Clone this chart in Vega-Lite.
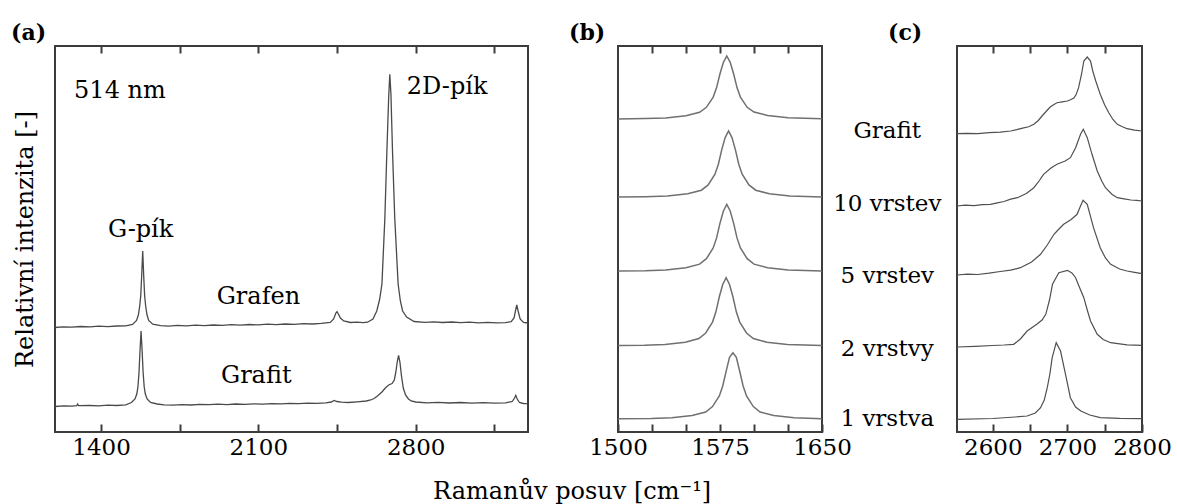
{
  "$schema": "https://vega.github.io/schema/vega-lite/v6.json",
  "padding": {"left": 10, "top": 21, "right": 0, "bottom": 0},
  "background": "white",
  "config": {
    "font": "DejaVu Serif",
    "view": {"stroke": "#3c3c3c", "strokeWidth": 2},
    "style": {"guide-label": {"font": "DejaVu Serif", "fontSize": 23, "fill": "#000"}, "guide-title": {"font": "DejaVu Serif", "fontSize": 24, "fill": "#000", "fontWeight": "normal"}},
    "axis": {"labelFont": "DejaVu Serif", "labelFontSize": 23, "labelColor": "#000", "titleFont": "DejaVu Serif", "titleFontSize": 24, "titleFontWeight": "normal", "titleColor": "#000", "tickColor": "#3c3c3c", "tickWidth": 2, "domain": false, "grid": false, "labelFlush": false, "labelOverlap": false, "minExtent": 0},
    "text": {"font": "DejaVu Serif", "fontSize": 24, "color": "#000"},
    "title": {"font": "DejaVu Serif", "fontSize": 22, "fontWeight": "bold", "color": "#000"}
  },
  "title": {"text": "Ramanův posuv [cm⁻¹]", "orient": "bottom", "anchor": "middle", "fontSize": 24, "fontWeight": "normal", "baseline": "alphabetic", "offset": 39, "dx": -19},
  "datasets": {
    "a": [
      {"s":"Grafen","x":1195,"y":104.5},{"s":"Grafen","x":1230,"y":105.2},{"s":"Grafen","x":1270,"y":104.8},{"s":"Grafen","x":1310,"y":105.5},{"s":"Grafen","x":1350,"y":105.1},{"s":"Grafen","x":1390,"y":105.8},{"s":"Grafen","x":1430,"y":105.4},{"s":"Grafen","x":1470,"y":106.0},{"s":"Grafen","x":1510,"y":106.2},{"s":"Grafen","x":1540,"y":107.5},{"s":"Grafen","x":1558,"y":111.5},{"s":"Grafen","x":1566,"y":117},{"s":"Grafen","x":1572,"y":126},{"s":"Grafen","x":1576.5,"y":136},{"s":"Grafen","x":1580.5,"y":155},{"s":"Grafen","x":1585.4,"y":181},{"s":"Grafen","x":1590,"y":155},{"s":"Grafen","x":1594,"y":136},{"s":"Grafen","x":1598.5,"y":126},{"s":"Grafen","x":1604.5,"y":117},{"s":"Grafen","x":1612,"y":111.5},{"s":"Grafen","x":1630,"y":107.8},{"s":"Grafen","x":1665,"y":106.4},{"s":"Grafen","x":1700,"y":105.8},{"s":"Grafen","x":1740,"y":106.6},{"s":"Grafen","x":1780,"y":106.1},{"s":"Grafen","x":1820,"y":106.9},{"s":"Grafen","x":1860,"y":106.4},{"s":"Grafen","x":1900,"y":107.0},{"s":"Grafen","x":1940,"y":106.6},{"s":"Grafen","x":1980,"y":107.3},{"s":"Grafen","x":2020,"y":106.9},{"s":"Grafen","x":2060,"y":107.5},{"s":"Grafen","x":2100,"y":107.1},{"s":"Grafen","x":2140,"y":107.8},{"s":"Grafen","x":2180,"y":107.4},{"s":"Grafen","x":2220,"y":108.0},{"s":"Grafen","x":2260,"y":107.7},{"s":"Grafen","x":2300,"y":108.3},{"s":"Grafen","x":2340,"y":108.0},{"s":"Grafen","x":2380,"y":108.6},{"s":"Grafen","x":2420,"y":109.5},{"s":"Grafen","x":2435,"y":113},{"s":"Grafen","x":2445,"y":119},{"s":"Grafen","x":2450,"y":120.3},{"s":"Grafen","x":2456,"y":118},{"s":"Grafen","x":2465,"y":114},{"s":"Grafen","x":2480,"y":111},{"s":"Grafen","x":2510,"y":109.5},{"s":"Grafen","x":2540,"y":109.8},{"s":"Grafen","x":2565,"y":109.3},{"s":"Grafen","x":2586,"y":109.8},{"s":"Grafen","x":2610,"y":113},{"s":"Grafen","x":2627,"y":121},{"s":"Grafen","x":2640,"y":133},{"s":"Grafen","x":2650,"y":148},{"s":"Grafen","x":2663,"y":214},{"s":"Grafen","x":2672,"y":281},{"s":"Grafen","x":2680,"y":335},{"s":"Grafen","x":2685,"y":357.7},{"s":"Grafen","x":2690,"y":338},{"s":"Grafen","x":2697,"y":281},{"s":"Grafen","x":2707,"y":214},{"s":"Grafen","x":2722,"y":148},{"s":"Grafen","x":2732,"y":131},{"s":"Grafen","x":2742,"y":121},{"s":"Grafen","x":2760,"y":115},{"s":"Grafen","x":2793,"y":110.5},{"s":"Grafen","x":2840,"y":109.7},{"s":"Grafen","x":2880,"y":110.1},{"s":"Grafen","x":2920,"y":109.5},{"s":"Grafen","x":2960,"y":110.0},{"s":"Grafen","x":3000,"y":109.3},{"s":"Grafen","x":3040,"y":109.8},{"s":"Grafen","x":3080,"y":109.2},{"s":"Grafen","x":3120,"y":109.6},{"s":"Grafen","x":3160,"y":109.1},{"s":"Grafen","x":3200,"y":109.4},{"s":"Grafen","x":3225,"y":110.3},{"s":"Grafen","x":3238,"y":114},{"s":"Grafen","x":3245,"y":122},{"s":"Grafen","x":3250,"y":127},{"s":"Grafen","x":3256,"y":121},{"s":"Grafen","x":3265,"y":113},{"s":"Grafen","x":3280,"y":109.5},{"s":"Grafen","x":3300,"y":109},
      {"s":"Grafit","x":1195,"y":25.5},{"s":"Grafit","x":1235,"y":26.2},{"s":"Grafit","x":1270,"y":25.9},{"s":"Grafit","x":1292,"y":26.4},{"s":"Grafit","x":1296,"y":28},{"s":"Grafit","x":1300,"y":26.3},{"s":"Grafit","x":1350,"y":26.5},{"s":"Grafit","x":1390,"y":26.2},{"s":"Grafit","x":1430,"y":26.8},{"s":"Grafit","x":1470,"y":26.5},{"s":"Grafit","x":1510,"y":27.2},{"s":"Grafit","x":1535,"y":29.5},{"s":"Grafit","x":1551,"y":33},{"s":"Grafit","x":1559,"y":38},{"s":"Grafit","x":1564,"y":45},{"s":"Grafit","x":1569,"y":60},{"s":"Grafit","x":1573,"y":80},{"s":"Grafit","x":1578,"y":101},{"s":"Grafit","x":1583,"y":80},{"s":"Grafit","x":1587,"y":60},{"s":"Grafit","x":1592,"y":45},{"s":"Grafit","x":1597,"y":38},{"s":"Grafit","x":1605,"y":33},{"s":"Grafit","x":1620,"y":29.5},{"s":"Grafit","x":1650,"y":28},{"s":"Grafit","x":1680,"y":27.2},{"s":"Grafit","x":1720,"y":26.8},{"s":"Grafit","x":1760,"y":27.4},{"s":"Grafit","x":1800,"y":27.0},{"s":"Grafit","x":1840,"y":27.6},{"s":"Grafit","x":1880,"y":27.3},{"s":"Grafit","x":1920,"y":27.8},{"s":"Grafit","x":1960,"y":27.4},{"s":"Grafit","x":2000,"y":28.0},{"s":"Grafit","x":2040,"y":27.7},{"s":"Grafit","x":2080,"y":28.2},{"s":"Grafit","x":2120,"y":27.9},{"s":"Grafit","x":2160,"y":28.4},{"s":"Grafit","x":2200,"y":28.1},{"s":"Grafit","x":2240,"y":28.6},{"s":"Grafit","x":2280,"y":28.3},{"s":"Grafit","x":2320,"y":28.8},{"s":"Grafit","x":2360,"y":28.6},{"s":"Grafit","x":2400,"y":29.2},{"s":"Grafit","x":2425,"y":30},{"s":"Grafit","x":2437,"y":31.5},{"s":"Grafit","x":2450,"y":30.5},{"s":"Grafit","x":2470,"y":29.8},{"s":"Grafit","x":2500,"y":29.5},{"s":"Grafit","x":2540,"y":30.2},{"s":"Grafit","x":2580,"y":31},{"s":"Grafit","x":2600,"y":32},{"s":"Grafit","x":2615,"y":33.5},{"s":"Grafit","x":2630,"y":36},{"s":"Grafit","x":2650,"y":40},{"s":"Grafit","x":2665,"y":44},{"s":"Grafit","x":2680,"y":47},{"s":"Grafit","x":2695,"y":48.5},{"s":"Grafit","x":2705,"y":52},{"s":"Grafit","x":2712,"y":60},{"s":"Grafit","x":2718,"y":70},{"s":"Grafit","x":2724,"y":76.7},{"s":"Grafit","x":2730,"y":70},{"s":"Grafit","x":2737,"y":56},{"s":"Grafit","x":2745,"y":44},{"s":"Grafit","x":2755,"y":37},{"s":"Grafit","x":2768,"y":33},{"s":"Grafit","x":2780,"y":31},{"s":"Grafit","x":2800,"y":30},{"s":"Grafit","x":2850,"y":29.2},{"s":"Grafit","x":2900,"y":29.6},{"s":"Grafit","x":2950,"y":29.0},{"s":"Grafit","x":3000,"y":29.5},{"s":"Grafit","x":3050,"y":28.9},{"s":"Grafit","x":3100,"y":29.3},{"s":"Grafit","x":3150,"y":28.8},{"s":"Grafit","x":3200,"y":29.2},{"s":"Grafit","x":3230,"y":30.5},{"s":"Grafit","x":3240,"y":34},{"s":"Grafit","x":3245.5,"y":36.7},{"s":"Grafit","x":3252,"y":33},{"s":"Grafit","x":3262,"y":29.5},{"s":"Grafit","x":3280,"y":28.5},{"s":"Grafit","x":3300,"y":28.3}
    ],
    "at": [
      {"x":1280,"y":334.3,"t":"514 nm"},{"x":2760.8,"y":337.7,"t":"2D-pík"},{"x":1431,"y":195.3,"t":"G-pík"},{"x":1914.5,"y":127.7,"t":"Grafen"},{"x":1933.6,"y":49.3,"t":"Grafit"}
    ],
    "b": [
      {"s":"g","x":1500,"y":313.1},{"s":"g","x":1520,"y":313.5},{"s":"g","x":1535,"y":314.1},{"s":"g","x":1550,"y":316.2},{"s":"g","x":1560,"y":319.7},{"s":"g","x":1565,"y":324.7},{"s":"g","x":1570,"y":334.9},{"s":"g","x":1572.5,"y":344.4},{"s":"g","x":1575,"y":358.3},{"s":"g","x":1577.5,"y":369.7},{"s":"g","x":1580,"y":376},{"s":"g","x":1582.5,"y":369.7},{"s":"g","x":1585,"y":358.3},{"s":"g","x":1587.5,"y":344.4},{"s":"g","x":1590,"y":334.9},{"s":"g","x":1595,"y":324.7},{"s":"g","x":1600,"y":319.9},{"s":"g","x":1610,"y":316.5},{"s":"g","x":1625,"y":314.3},{"s":"g","x":1650,"y":313.2},
      {"s":"10","x":1500,"y":235.0},{"s":"10","x":1520,"y":235.3},{"s":"10","x":1536.3,"y":236.0},{"s":"10","x":1551.3,"y":238.2},{"s":"10","x":1561.3,"y":241.8},{"s":"10","x":1566.3,"y":247.1},{"s":"10","x":1571.3,"y":257.8},{"s":"10","x":1573.8,"y":267.8},{"s":"10","x":1576.3,"y":282.4},{"s":"10","x":1578.8,"y":294.4},{"s":"10","x":1581.3,"y":301},{"s":"10","x":1583.8,"y":294.4},{"s":"10","x":1586.3,"y":282.4},{"s":"10","x":1588.8,"y":267.8},{"s":"10","x":1591.3,"y":257.8},{"s":"10","x":1596.3,"y":247.1},{"s":"10","x":1601.3,"y":241.8},{"s":"10","x":1611.3,"y":238.2},{"s":"10","x":1626.3,"y":236.0},{"s":"10","x":1650,"y":235.0},
      {"s":"5","x":1500,"y":161.0},{"s":"5","x":1520,"y":161.3},{"s":"5","x":1535,"y":162.0},{"s":"5","x":1550,"y":164.2},{"s":"5","x":1560,"y":167.9},{"s":"5","x":1565,"y":173.3},{"s":"5","x":1570,"y":184.0},{"s":"5","x":1572.5,"y":194.1},{"s":"5","x":1575,"y":208.9},{"s":"5","x":1577.5,"y":221.0},{"s":"5","x":1580,"y":227.7},{"s":"5","x":1582.5,"y":221.0},{"s":"5","x":1585,"y":208.9},{"s":"5","x":1587.5,"y":194.1},{"s":"5","x":1590,"y":184.0},{"s":"5","x":1595,"y":173.3},{"s":"5","x":1600,"y":167.9},{"s":"5","x":1610,"y":164.2},{"s":"5","x":1625,"y":162.0},{"s":"5","x":1650,"y":161.0},
      {"s":"2","x":1500,"y":86.5},{"s":"2","x":1519.5,"y":86.8},{"s":"2","x":1534.5,"y":87.5},{"s":"2","x":1549.5,"y":89.8},{"s":"2","x":1559.5,"y":93.5},{"s":"2","x":1564.5,"y":99.0},{"s":"2","x":1569.5,"y":109.9},{"s":"2","x":1572,"y":120.2},{"s":"2","x":1574.5,"y":135.2},{"s":"2","x":1577,"y":147.5},{"s":"2","x":1579.5,"y":154.3},{"s":"2","x":1582,"y":147.5},{"s":"2","x":1584.5,"y":135.2},{"s":"2","x":1587,"y":120.2},{"s":"2","x":1589.5,"y":109.9},{"s":"2","x":1594.5,"y":99.0},{"s":"2","x":1599.5,"y":93.5},{"s":"2","x":1609.5,"y":89.8},{"s":"2","x":1624.5,"y":87.5},{"s":"2","x":1650,"y":86.5},
      {"s":"1","x":1500,"y":13.2},{"s":"1","x":1524.5,"y":13.5},{"s":"1","x":1539.5,"y":14.2},{"s":"1","x":1554.5,"y":16.4},{"s":"1","x":1564.5,"y":20.0},{"s":"1","x":1569.5,"y":25.4},{"s":"1","x":1574.5,"y":36.0},{"s":"1","x":1577,"y":46.0},{"s":"1","x":1579.5,"y":60.7},{"s":"1","x":1582,"y":74.6},{"s":"1","x":1584.5,"y":79.3},{"s":"1","x":1587,"y":74.6},{"s":"1","x":1589.5,"y":60.7},{"s":"1","x":1592,"y":46.0},{"s":"1","x":1594.5,"y":36.0},{"s":"1","x":1599.5,"y":25.4},{"s":"1","x":1604.5,"y":20.0},{"s":"1","x":1614.5,"y":16.4},{"s":"1","x":1629.5,"y":14.2},{"s":"1","x":1650,"y":13.2}
    ],
    "lb": [
      {"x":1698,"y":294,"t":"Grafit"},{"x":1698,"y":221,"t":"10 vrstev"},{"x":1698,"y":149,"t":"5 vrstev"},{"x":1698,"y":76,"t":"2 vrstvy"},{"x":1698,"y":6,"t":"1 vrstva"}
    ],
    "c": [
      {"s":"g","x":2552,"y":298.3},{"s":"g","x":2565,"y":298.7},{"s":"g","x":2580,"y":298.4},{"s":"g","x":2595,"y":299.3},{"s":"g","x":2610,"y":299.8},{"s":"g","x":2624,"y":301},{"s":"g","x":2632,"y":302.3},{"s":"g","x":2640,"y":303.8},{"s":"g","x":2648,"y":305.2},{"s":"g","x":2655,"y":307.7},{"s":"g","x":2661,"y":311.5},{"s":"g","x":2666,"y":316},{"s":"g","x":2672,"y":321},{"s":"g","x":2677,"y":325},{"s":"g","x":2682,"y":327.5},{"s":"g","x":2686,"y":329.3},{"s":"g","x":2693,"y":330.2},{"s":"g","x":2700,"y":331},{"s":"g","x":2705,"y":332.5},{"s":"g","x":2709,"y":334.3},{"s":"g","x":2712,"y":338},{"s":"g","x":2715,"y":344.3},{"s":"g","x":2719,"y":358},{"s":"g","x":2722,"y":371},{"s":"g","x":2726.6,"y":375},{"s":"g","x":2731,"y":371},{"s":"g","x":2734,"y":361},{"s":"g","x":2738,"y":351},{"s":"g","x":2744,"y":337.7},{"s":"g","x":2750,"y":327},{"s":"g","x":2755.5,"y":319.3},{"s":"g","x":2761,"y":312.5},{"s":"g","x":2767,"y":307.7},{"s":"g","x":2773,"y":305.5},{"s":"g","x":2780,"y":303.3},{"s":"g","x":2790,"y":301.8},{"s":"g","x":2800,"y":301},
      {"s":"10","x":2552,"y":226},{"s":"10","x":2563,"y":226.8},{"s":"10","x":2575,"y":226.3},{"s":"10","x":2586,"y":227.4},{"s":"10","x":2597,"y":227.7},{"s":"10","x":2606,"y":229.2},{"s":"10","x":2615,"y":230.5},{"s":"10","x":2624,"y":232.8},{"s":"10","x":2633,"y":234.3},{"s":"10","x":2645,"y":238.5},{"s":"10","x":2655,"y":244.3},{"s":"10","x":2662,"y":251},{"s":"10","x":2668,"y":257.7},{"s":"10","x":2678,"y":264},{"s":"10","x":2686,"y":267.7},{"s":"10","x":2697,"y":271},{"s":"10","x":2704,"y":274.3},{"s":"10","x":2711,"y":284.3},{"s":"10","x":2717.6,"y":297.7},{"s":"10","x":2721.3,"y":302.7},{"s":"10","x":2726.6,"y":294.3},{"s":"10","x":2733,"y":277.7},{"s":"10","x":2740,"y":261},{"s":"10","x":2746,"y":251},{"s":"10","x":2751,"y":244.3},{"s":"10","x":2760,"y":237.5},{"s":"10","x":2767,"y":234.3},{"s":"10","x":2776,"y":233.2},{"s":"10","x":2785,"y":232},{"s":"10","x":2793,"y":231.6},{"s":"10","x":2800,"y":231},
      {"s":"5","x":2552,"y":157},{"s":"5","x":2566,"y":157.8},{"s":"5","x":2580,"y":157.5},{"s":"5","x":2595,"y":158.8},{"s":"5","x":2610,"y":160.5},{"s":"5","x":2624,"y":161.8},{"s":"5","x":2637,"y":164.3},{"s":"5","x":2652,"y":170},{"s":"5","x":2664,"y":177.7},{"s":"5","x":2673,"y":187},{"s":"5","x":2682,"y":197.7},{"s":"5","x":2688,"y":202.5},{"s":"5","x":2695,"y":207.7},{"s":"5","x":2705,"y":212.5},{"s":"5","x":2713,"y":217.7},{"s":"5","x":2717,"y":225},{"s":"5","x":2721,"y":231.7},{"s":"5","x":2726.6,"y":227.7},{"s":"5","x":2735,"y":204.3},{"s":"5","x":2744,"y":184.3},{"s":"5","x":2751,"y":174},{"s":"5","x":2758,"y":167.7},{"s":"5","x":2770,"y":163},{"s":"5","x":2780,"y":161},{"s":"5","x":2790,"y":159.6},{"s":"5","x":2800,"y":158.3},
      {"s":"2","x":2552,"y":85},{"s":"2","x":2576,"y":85.6},{"s":"2","x":2600,"y":86.5},{"s":"2","x":2615,"y":87},{"s":"2","x":2628,"y":87.7},{"s":"2","x":2637,"y":93},{"s":"2","x":2646,"y":101},{"s":"2","x":2659,"y":107.7},{"s":"2","x":2666,"y":112},{"s":"2","x":2671,"y":117.7},{"s":"2","x":2676,"y":132},{"s":"2","x":2680,"y":147.7},{"s":"2","x":2688.5,"y":159.3},{"s":"2","x":2700,"y":161.7},{"s":"2","x":2706,"y":159},{"s":"2","x":2711,"y":154.3},{"s":"2","x":2716,"y":145},{"s":"2","x":2722,"y":134.3},{"s":"2","x":2727,"y":121},{"s":"2","x":2731,"y":111},{"s":"2","x":2740,"y":97.7},{"s":"2","x":2748,"y":92.5},{"s":"2","x":2758,"y":89.3},{"s":"2","x":2780,"y":87.2},{"s":"2","x":2800,"y":86.7},
      {"s":"1","x":2552,"y":12.7},{"s":"1","x":2600,"y":13.5},{"s":"1","x":2630,"y":15},{"s":"1","x":2646,"y":16},{"s":"1","x":2657,"y":19},{"s":"1","x":2664,"y":24.3},{"s":"1","x":2669,"y":32},{"s":"1","x":2673,"y":44.3},{"s":"1","x":2676.5,"y":58},{"s":"1","x":2679.6,"y":74.3},{"s":"1","x":2685,"y":89.3},{"s":"1","x":2690.8,"y":81},{"s":"1","x":2697.5,"y":57.7},{"s":"1","x":2704,"y":34.3},{"s":"1","x":2711,"y":25},{"s":"1","x":2718,"y":21},{"s":"1","x":2730,"y":17},{"s":"1","x":2744,"y":14.3},{"s":"1","x":2770,"y":13.6},{"s":"1","x":2800,"y":13.3}
    ]
  },
  "bounds": "flush",
  "spacing": 90,
  "hconcat": [
    {
      "width": 473, "height": 386,
      "title": {"text": "(a)", "anchor": "start", "frame": "group", "dx": -44, "offset": -17, "baseline": "alphabetic"},
      "layer": [
        {
          "data": {"name": "a"},
          "mark": {"type": "line", "color": "#4a4a4a", "strokeWidth": 1.3},
          "encoding": {
            "x": {"field": "x", "type": "quantitative", "scale": {"domain": [1195, 3300], "nice": false, "zero": false},
                  "axis": {"orient": "bottom", "title": null, "values": [1400, 1750, 2100, 2450, 2800, 3150], "format": "d", "labelExpr": "datum.value == 1400 || datum.value == 2100 || datum.value == 2800 ? datum.label : ''", "tickSize": -8, "labelPadding": 30, "labelBaseline": "alphabetic", "minExtent": 0, "labelFont": "DejaVu Serif", "labelFontSize": 23}},
            "y": {"field": "y", "type": "quantitative", "scale": {"domain": [0, 386], "nice": false, "zero": false},
                  "axis": {"title": "Relativní intenzita [-]", "labels": false, "ticks": false, "titlePadding": 18, "minExtent": 0, "titleFont": "DejaVu Serif", "titleFontSize": 24, "titleFontWeight": "normal"}},
            "detail": {"field": "s"}
          }
        },
        {
          "data": {"name": "at"},
          "mark": {"type": "text", "align": "left", "baseline": "alphabetic"},
          "encoding": {
            "x": {"field": "x", "type": "quantitative", "scale": {"domain": [1195, 3300], "nice": false, "zero": false},
                  "axis": {"orient": "top", "title": null, "labels": false, "values": [1400, 1750, 2100, 2450, 2800, 3150], "tickSize": -7, "minExtent": 0}},
            "y": {"field": "y", "type": "quantitative"},
            "text": {"field": "t"}
          }
        }
      ],
      "resolve": {"axis": {"x": "independent"}}
    },
    {
      "bounds": "flush",
      "spacing": 135,
      "hconcat": [
        {
          "width": 204, "height": 386,
          "title": {"text": "(b)", "anchor": "start", "frame": "group", "dx": -49, "offset": -17, "baseline": "alphabetic"},
          "layer": [
            {
              "data": {"name": "b"},
              "mark": {"type": "line", "color": "#707070", "strokeWidth": 1.5},
              "encoding": {
                "x": {"field": "x", "type": "quantitative", "scale": {"domain": [1500, 1650], "nice": false, "zero": false},
                      "axis": {"orient": "bottom", "title": null, "values": [1500, 1525, 1550, 1575, 1600, 1625, 1650], "format": "d", "labelExpr": "datum.value == 1500 || datum.value == 1575 || datum.value == 1650 ? datum.label : ''", "tickSize": -8, "labelPadding": 30, "labelBaseline": "alphabetic", "minExtent": 0, "labelFont": "DejaVu Serif", "labelFontSize": 23}},
                "y": {"field": "y", "type": "quantitative", "scale": {"domain": [0, 386], "nice": false, "zero": false}, "axis": null},
                "detail": {"field": "s"}
              }
            },
            {
              "data": {"name": "lb"},
              "mark": {"type": "text", "align": "center", "baseline": "alphabetic", "fontSize": 23},
              "encoding": {
                "x": {"field": "x", "type": "quantitative", "scale": {"domain": [1500, 1650], "nice": false, "zero": false},
                      "axis": {"orient": "top", "title": null, "labels": false, "values": [1525, 1550, 1575, 1600, 1625], "tickSize": -7, "minExtent": 0}},
                "y": {"field": "y", "type": "quantitative", "axis": null},
                "text": {"field": "t"}
              }
            }
          ],
          "resolve": {"axis": {"x": "independent"}}
        },
        {
          "width": 185, "height": 386,
          "title": {"text": "(c)", "anchor": "start", "frame": "group", "dx": -69, "offset": -17, "baseline": "alphabetic"},
          "layer": [
            {
              "data": {"name": "c"},
              "mark": {"type": "line", "color": "#505050", "strokeWidth": 1.2},
              "encoding": {
                "x": {"field": "x", "type": "quantitative", "scale": {"domain": [2552, 2800], "nice": false, "zero": false},
                      "axis": {"orient": "bottom", "title": null, "values": [2600, 2650, 2700, 2750, 2800], "format": "d", "labelExpr": "datum.value % 100 == 0 ? datum.label : ''", "tickSize": -8, "labelPadding": 30, "labelBaseline": "alphabetic", "minExtent": 0, "labelFont": "DejaVu Serif", "labelFontSize": 23}},
                "y": {"field": "y", "type": "quantitative", "scale": {"domain": [0, 386], "nice": false, "zero": false}, "axis": null},
                "detail": {"field": "s"}
              }
            },
            {
              "data": {"name": "c"},
              "mark": {"type": "line", "opacity": 0},
              "encoding": {
                "x": {"field": "x", "type": "quantitative", "scale": {"domain": [2552, 2800], "nice": false, "zero": false},
                      "axis": {"orient": "top", "title": null, "labels": false, "values": [2600, 2650, 2700, 2750], "tickSize": -7, "minExtent": 0}},
                "y": {"field": "y", "type": "quantitative", "axis": null},
                "detail": {"field": "s"}
              }
            }
          ],
          "resolve": {"axis": {"x": "independent"}}
        }
      ]
    }
  ]
}
